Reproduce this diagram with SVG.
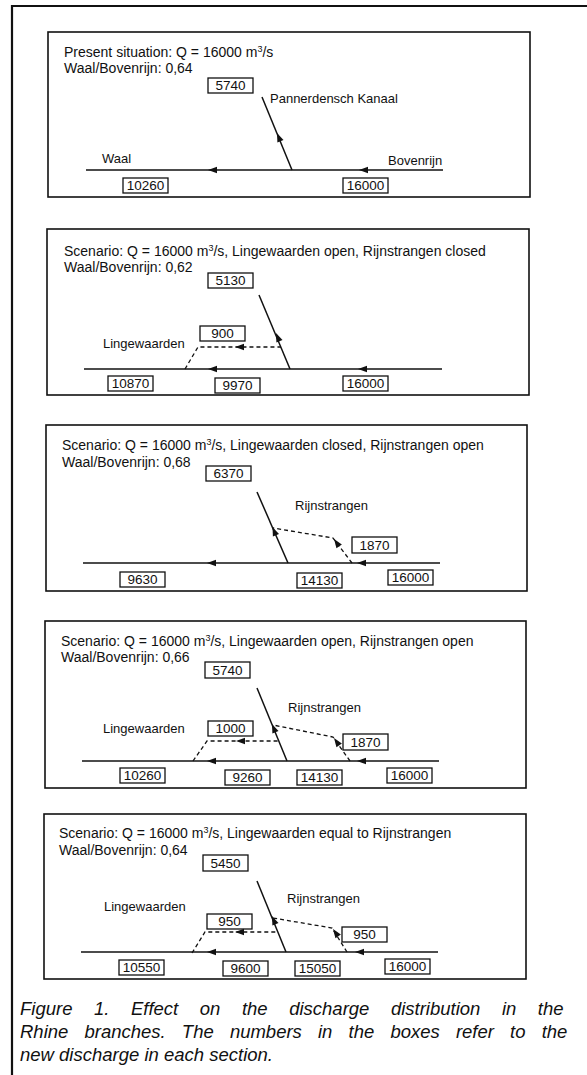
<svg xmlns="http://www.w3.org/2000/svg" xmlns:xlink="http://www.w3.org/1999/xlink" width="587" height="1075" viewBox="0 0 587 1075">
<style>
text{font-family:"Liberation Sans",Arial,sans-serif;fill:#111}
.t{font-size:14px}
.l{font-size:13px}
.n{font-size:13.5px;text-anchor:middle}
.cap{font-size:18.5px;font-style:italic}
.panel{fill:none;stroke:#111;stroke-width:1.6}
.box{fill:#fff;stroke:#111;stroke-width:1.3}
.riv{fill:none;stroke:#111;stroke-width:1.5}
.dash{fill:none;stroke:#111;stroke-width:1.3;stroke-dasharray:4 3}
.frame{fill:none;stroke:#111;stroke-width:2.2}
</style>
<defs>
<path id="ah" d="M0,0 L9,-3.3 L9,3.3 Z" fill="#111"/>
</defs>
<rect width="587" height="1075" fill="#fff"/>
<path class="frame" d="M12,1075 V6 H587"/>

<!-- Panel 1 -->
<g id="panel1">
<rect class="panel" x="48" y="32" width="482" height="165"/>
<text class="t" x="64" y="57">Present situation: Q = 16000 m<tspan font-size="9" dy="-5">3</tspan><tspan dy="5">/s</tspan></text>
<text class="t" x="64" y="73">Waal/Bovenrijn: 0,64</text>
<text class="l" x="270" y="103">Pannerdensch Kanaal</text>
<text class="l" x="102" y="163">Waal</text>
<text class="l" x="388" y="165">Bovenrijn</text>
</g>
<g id="p1-boxes">
<g id="p1-b5740"><rect class="box" x="208" y="78" width="45" height="15"/><text class="n" x="230.5" y="90">5740</text></g>
<g id="p1-b10260"><rect class="box" x="123" y="178" width="45" height="15"/><text class="n" x="145.5" y="190">10260</text></g>
<g id="p1-b16000"><rect class="box" x="343" y="178" width="45" height="15"/><text class="n" x="365.5" y="190">16000</text></g>
</g>

<!-- Panel 2 -->
<g id="panel2">
<rect class="panel" x="47" y="229" width="482" height="166"/>
<text class="t" x="64" y="256">Scenario: Q = 16000 m<tspan font-size="9" dy="-5">3</tspan><tspan dy="5">/s, Lingewaarden open, Rijnstrangen closed</tspan></text>
<text class="t" x="64" y="272">Waal/Bovenrijn: 0,62</text>
<text class="l" x="103" y="348">Lingewaarden</text>
</g>
<g id="p2-boxes">
<g id="p2-b5130"><rect class="box" x="208" y="273" width="45" height="15"/><text class="n" x="230.5" y="285">5130</text></g>
<g id="p2-b900"><rect class="box" x="200" y="326" width="45" height="15"/><text class="n" x="222.5" y="338">900</text></g>
<g id="p2-b10870"><rect class="box" x="108" y="376" width="45" height="15"/><text class="n" x="130.5" y="388">10870</text></g>
<g id="p2-b9970"><rect class="box" x="215" y="378" width="45" height="15"/><text class="n" x="237.5" y="390">9970</text></g>
<g id="p2-b16000"><rect class="box" x="343" y="376" width="45" height="15"/><text class="n" x="365.5" y="388">16000</text></g>
</g>

<!-- Panel 3 -->
<g id="panel3">
<rect class="panel" x="46" y="425" width="481" height="166"/>
<text class="t" x="62" y="450">Scenario: Q = 16000 m<tspan font-size="9" dy="-5">3</tspan><tspan dy="5">/s, Lingewaarden closed, Rijnstrangen open</tspan></text>
<text class="t" x="62" y="467">Waal/Bovenrijn: 0,68</text>
<text class="l" x="295" y="510">Rijnstrangen</text>
</g>
<g id="p3-boxes">
<g id="p3-b6370"><rect class="box" x="206" y="466" width="45" height="15"/><text class="n" x="228.5" y="478">6370</text></g>
<g id="p3-b1870"><rect class="box" x="352" y="537" width="45" height="16"/><text class="n" x="374.5" y="550">1870</text></g>
<g id="p3-b9630"><rect class="box" x="120" y="572" width="45" height="15"/><text class="n" x="142.5" y="584">9630</text></g>
<g id="p3-b14130"><rect class="box" x="297" y="573" width="45" height="15"/><text class="n" x="319.5" y="585">14130</text></g>
<g id="p3-b16000"><rect class="box" x="388" y="570" width="45" height="15"/><text class="n" x="410.5" y="582">16000</text></g>
</g>

<!-- Panel 4 -->
<g id="panel4">
<rect class="panel" x="45" y="621" width="481" height="167"/>
<text class="t" x="61" y="646">Scenario: Q = 16000 m<tspan font-size="9" dy="-5">3</tspan><tspan dy="5">/s, Lingewaarden open, Rijnstrangen open</tspan></text>
<text class="t" x="61" y="662">Waal/Bovenrijn: 0,66</text>
<text class="l" x="288" y="712">Rijnstrangen</text>
<text class="l" x="103" y="733">Lingewaarden</text>
</g>
<g id="p4-boxes">
<g id="p4-b5740"><rect class="box" x="205" y="662" width="45" height="16"/><text class="n" x="227.5" y="675">5740</text></g>
<g id="p4-b1000"><rect class="box" x="208" y="721" width="45" height="15"/><text class="n" x="230.5" y="733">1000</text></g>
<g id="p4-b1870"><rect class="box" x="343" y="734" width="45" height="16"/><text class="n" x="365.5" y="747">1870</text></g>
<g id="p4-b10260"><rect class="box" x="120" y="768" width="45" height="15"/><text class="n" x="142.5" y="780">10260</text></g>
<g id="p4-b9260"><rect class="box" x="225" y="770" width="45" height="15"/><text class="n" x="247.5" y="782">9260</text></g>
<g id="p4-b14130"><rect class="box" x="297" y="770" width="45" height="15"/><text class="n" x="319.5" y="782">14130</text></g>
<g id="p4-b16000"><rect class="box" x="387" y="768" width="45" height="15"/><text class="n" x="409.5" y="780">16000</text></g>
</g>

<!-- Panel 5 -->
<g id="panel5">
<rect class="panel" x="44" y="814" width="482" height="165"/>
<text class="t" x="59" y="838">Scenario: Q = 16000 m<tspan font-size="9" dy="-5">3</tspan><tspan dy="5">/s, Lingewaarden equal to Rijnstrangen</tspan></text>
<text class="t" x="59" y="855">Waal/Bovenrijn: 0,64</text>
<text class="l" x="287" y="903">Rijnstrangen</text>
<text class="l" x="104" y="911">Lingewaarden</text>
</g>
<g id="p5-boxes">
<g id="p5-b5450"><rect class="box" x="203" y="855" width="45" height="16"/><text class="n" x="225.5" y="868">5450</text></g>
<g id="p5-b950a"><rect class="box" x="207" y="914" width="45" height="15"/><text class="n" x="229.5" y="926">950</text></g>
<g id="p5-b950b"><rect class="box" x="342" y="927" width="45" height="15"/><text class="n" x="364.5" y="939">950</text></g>
<g id="p5-b10550"><rect class="box" x="119" y="960" width="45" height="15"/><text class="n" x="141.5" y="972">10550</text></g>
<g id="p5-b9600"><rect class="box" x="223" y="961" width="45" height="15"/><text class="n" x="245.5" y="973">9600</text></g>
<g id="p5-b15050"><rect class="box" x="295" y="961" width="45" height="15"/><text class="n" x="317.5" y="973">15050</text></g>
<g id="p5-b16000"><rect class="box" x="385" y="959" width="45" height="15"/><text class="n" x="407.5" y="971">16000</text></g>
</g>

<!-- Connectors -->
<g id="connectors">
<!-- panel 1 -->
<path class="riv" d="M86,170 H443"/>
<path class="riv" d="M292,170 L262,97"/>
<use xlink:href="#ah" href="#ah" transform="translate(208,170)"/>
<use xlink:href="#ah" href="#ah" transform="translate(359,170)"/>
<use xlink:href="#ah" href="#ah" transform="translate(277,133) rotate(67.5)"/>
<!-- panel 2 -->
<path class="riv" d="M84,369 H442"/>
<path class="riv" d="M290,369 L259,295"/>
<path class="dash" d="M185,369 L198,347 H281"/>
<use xlink:href="#ah" href="#ah" transform="translate(208,369)"/>
<use xlink:href="#ah" href="#ah" transform="translate(358,369)"/>
<use xlink:href="#ah" href="#ah" transform="translate(276,333) rotate(67.5)"/>
<use xlink:href="#ah" href="#ah" transform="translate(235,347)"/>
<!-- panel 3 -->
<path class="riv" d="M83,563 H440"/>
<path class="riv" d="M288,563 L257,492"/>
<path class="dash" d="M352,563 L333,538 L273,528"/>
<use xlink:href="#ah" href="#ah" transform="translate(207,563)"/>
<use xlink:href="#ah" href="#ah" transform="translate(357,563)"/>
<use xlink:href="#ah" href="#ah" transform="translate(272.5,527) rotate(67.5)"/>
<use xlink:href="#ah" href="#ah" transform="translate(334,539) rotate(55)"/>
<!-- panel 4 -->
<path class="riv" d="M82,761 H439"/>
<path class="riv" d="M287,761 L257,688"/>
<path class="dash" d="M193,761 L207,741 H279"/>
<path class="dash" d="M350,761 L333,737 L273,725"/>
<use xlink:href="#ah" href="#ah" transform="translate(207,761)"/>
<use xlink:href="#ah" href="#ah" transform="translate(357,761)"/>
<use xlink:href="#ah" href="#ah" transform="translate(272,724) rotate(67.5)"/>
<use xlink:href="#ah" href="#ah" transform="translate(236,741)"/>
<use xlink:href="#ah" href="#ah" transform="translate(334,738) rotate(55)"/>
<!-- panel 5 -->
<path class="riv" d="M81,952 H438"/>
<path class="riv" d="M286,952 L257,881"/>
<path class="dash" d="M192,953 L205,932 H278"/>
<path class="dash" d="M347,952 L332,928 L273,918"/>
<use xlink:href="#ah" href="#ah" transform="translate(207,952)"/>
<use xlink:href="#ah" href="#ah" transform="translate(355,952)"/>
<use xlink:href="#ah" href="#ah" transform="translate(272,916) rotate(67.5)"/>
<use xlink:href="#ah" href="#ah" transform="translate(235,932)"/>
<use xlink:href="#ah" href="#ah" transform="translate(333,929) rotate(55)"/>
</g>

<g id="caption">
<text class="cap" x="20" y="1015" word-spacing="16.4">Figure 1. Effect on the discharge distribution in the</text>
<text class="cap" x="20" y="1038" word-spacing="11">Rhine branches. The numbers in the boxes refer to the</text>
<text class="cap" x="20" y="1061">new discharge in each section.</text>
</g>
</svg>
